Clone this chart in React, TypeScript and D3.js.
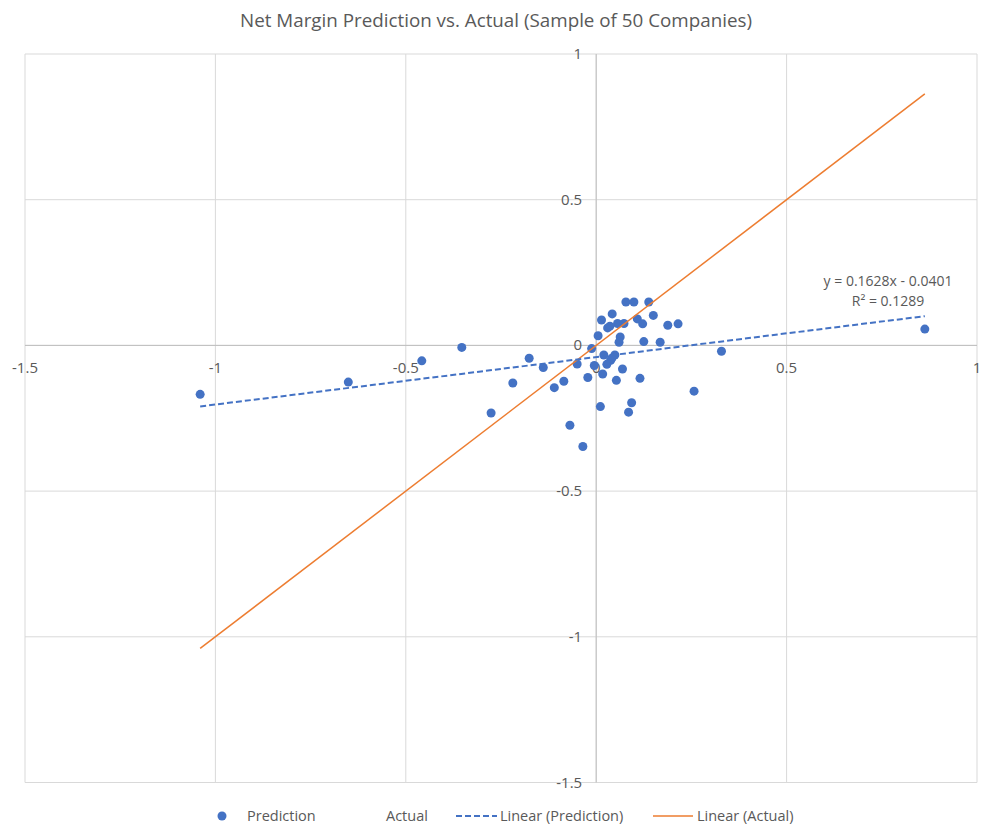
import React from "react";
import * as d3 from "d3";

const predX: number[] = [
  0.078, 0.099, 0.138, 0.042, 0.150, 0.014, 0.108, 0.056, 0.073, 0.122,
  0.188, 0.215, 0.030, 0.036, 0.005, 0.063, 0.060, 0.125, 0.168, 0.329,
  -0.012, 0.020, 0.049, 0.038, 0.028, -0.176, -0.139, -0.050, -0.005, 0.017,
  0.069, -0.022, -0.219, -0.110, -0.085, 0.053, 0.115, 0.257, -0.276, 0.011,
  0.093, 0.085, -0.069, -0.035, -1.040, -0.651, -0.458, -0.353, 0.863, 0.041,
];
const predY: number[] = [
  0.149, 0.149, 0.149, 0.108, 0.103, 0.087, 0.091, 0.075, 0.075, 0.074,
  0.069, 0.074, 0.060, 0.066, 0.033, 0.029, 0.011, 0.013, 0.011, -0.020,
  -0.011, -0.033, -0.033, -0.051, -0.065, -0.044, -0.076, -0.064, -0.069, -0.098,
  -0.081, -0.110, -0.129, -0.145, -0.123, -0.120, -0.113, -0.157, -0.232, -0.210,
  -0.197, -0.229, -0.274, -0.347, -0.168, -0.126, -0.053, -0.007, 0.056, -0.044,
];
// Actual series: y equals x (no markers)
const actualY: number[] = predX.slice();

const trendSlope = 0.1628;
const trendIntercept = -0.0401;
const trendLabel1 = "y = 0.1628x - 0.0401";
const trendLabel2 = "R² = 0.1289";

const xTicks = [-1.5, -1, -0.5, 0, 0.5, 1];
const yTicks = [1, 0.5, 0, -0.5, -1, -1.5];
const title = "Net Margin Prediction vs. Actual (Sample of 50 Companies)";

const W = 983;
const H = 827;
const FONT = "Open Sans, Liberation Sans, sans-serif";
const TXT = "#595959";

function fitLine(xs: number[], ys: number[]) {
  const mx = d3.mean(xs)!;
  const my = d3.mean(ys)!;
  let num = 0;
  let den = 0;
  xs.forEach((x, i) => {
    num += (x - mx) * (ys[i] - my);
    den += (x - mx) * (x - mx);
  });
  const m = num / den;
  return { m, b: my - m * mx };
}

export default function App() {
  const x = d3.scaleLinear().domain([-1.5, 1]).range([25, 977]);
  const y = d3.scaleLinear().domain([-1.5, 1]).range([782.5, 54]);
  const [xmin, xmax] = d3.extent(predX) as [number, number];
  const act = fitLine(predX, actualY);
  const fmt = (v: number) => String(v);

  const predLine = d3.line<number>()
    .x((v) => x(v))
    .y((v) => y(trendSlope * v + trendIntercept));
  const actLine = d3.line<number>()
    .x((v) => x(v))
    .y((v) => y(act.m * v + act.b));

  const legY = 816;

  return (
    <svg width={W} height={H} style={{ display: "block", position: "absolute", left: 0, top: 0, background: "#fff" }}>
      <rect x={0} y={0} width={W} height={H} fill="#fff" />
      <text x={496} y={27} textAnchor="middle" fontFamily={FONT} fontSize={18.5} fill={TXT} textLength={512} lengthAdjust="spacingAndGlyphs">
        {title}
      </text>
      {/* gridlines */}
      {xTicks.map((t) => (
        <line key={"gx" + t} x1={x(t)} x2={x(t)} y1={y(1)} y2={y(-1.5)} stroke="#d9d9d9" strokeWidth={1} />
      ))}
      {yTicks.map((t) => (
        <line key={"gy" + t} x1={x(-1.5)} x2={x(1)} y1={y(t)} y2={y(t)} stroke="#d9d9d9" strokeWidth={1} />
      ))}
      {/* axes at zero */}
      <line x1={x(0)} x2={x(0)} y1={y(1)} y2={y(-1.5)} stroke="#bfbfbf" strokeWidth={1} />
      <line x1={x(-1.5)} x2={x(1)} y1={y(0)} y2={y(0)} stroke="#bfbfbf" strokeWidth={1} />
      {/* tick labels */}
      {xTicks.map((t) => (
        <text key={"tx" + t} x={x(t)} y={y(0) + 28} textAnchor="middle" fontFamily={FONT} fontSize={15} fill={TXT}>
          {fmt(t)}
        </text>
      ))}
      {yTicks.map((t) => (
        <text key={"ty" + t} x={x(0) - 14} y={y(t) + 5} textAnchor="end" fontFamily={FONT} fontSize={15} fill={TXT}>
          {fmt(t)}
        </text>
      ))}
      {/* points */}
      {predX.map((v, i) => (
        <circle key={"p" + i} cx={x(v)} cy={y(predY[i])} r={4.5} fill="#4472C4" />
      ))}
      {/* trendlines */}
      <path d={actLine([xmin, xmax]) || ""} fill="none" stroke="#ED7D31" strokeWidth={1.5} />
      <path d={predLine([xmin, xmax]) || ""} fill="none" stroke="#4472C4" strokeWidth={2} strokeDasharray="6,3" />
      <text x={888} y={286} textAnchor="middle" fontFamily={FONT} fontSize={14} fill={TXT}>
        {trendLabel1}
      </text>
      <text x={888} y={306} textAnchor="middle" fontFamily={FONT} fontSize={14} fill={TXT}>
        {trendLabel2}
      </text>
      {/* legend */}
      <circle cx={222} cy={legY} r={4.5} fill="#4472C4" />
      <text x={247} y={legY + 5} fontFamily={FONT} fontSize={14.5} fill={TXT}>Prediction</text>
      <text x={386} y={legY + 5} fontFamily={FONT} fontSize={14.5} fill={TXT}>Actual</text>
      <line x1={456} x2={497} y1={legY} y2={legY} stroke="#4472C4" strokeWidth={2} strokeDasharray="6,3" />
      <text x={500} y={legY + 5} fontFamily={FONT} fontSize={14.5} fill={TXT}>Linear (Prediction)</text>
      <line x1={653} x2={693} y1={legY} y2={legY} stroke="#ED7D31" strokeWidth={1.5} />
      <text x={697} y={legY + 5} fontFamily={FONT} fontSize={14.5} fill={TXT}>Linear (Actual)</text>
    </svg>
  );
}
